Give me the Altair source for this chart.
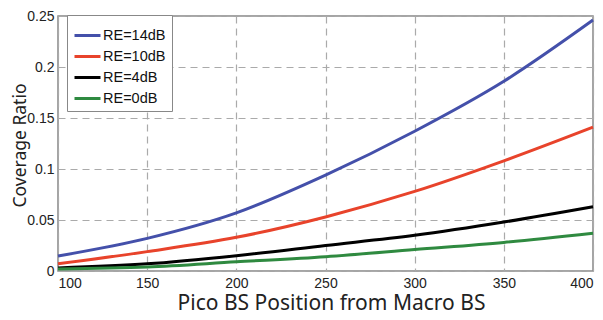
import altair as alt
import pandas as pd

positions = [100, 150, 200, 250, 300, 350, 400]
series_names = ["RE=14dB", "RE=10dB", "RE=4dB", "RE=0dB"]
re14 = [0.0147, 0.032, 0.057, 0.094, 0.137, 0.186, 0.246]
re10 = [0.007, 0.019, 0.033, 0.053, 0.078, 0.108, 0.141]
re4 = [0.003, 0.007, 0.015, 0.025, 0.035, 0.048, 0.063]
re0 = [0.002, 0.004, 0.009, 0.014, 0.021, 0.028, 0.037]
colors = ["#4450aa", "#e8432b", "#000000", "#2f8a40"]

rows = []
for name, vals in zip(series_names, [re14, re10, re4, re0]):
    for p, v in zip(positions, vals):
        rows.append({"pos": p, "val": v, "series": name})
df = pd.DataFrame(rows)

chart = alt.Chart(df).mark_line(strokeWidth=3, interpolate="monotone").encode(
    x=alt.X("pos:Q", scale=alt.Scale(domain=[100, 400], nice=False),
            axis=alt.Axis(values=positions, title="Pico BS Position from Macro BS",
                          format="d", titleX=273, titleY=38,
                          titleBaseline="alphabetic", titleFontSize=21)),
    y=alt.Y("val:Q", scale=alt.Scale(domain=[0, 0.25], nice=False),
            axis=alt.Axis(values=[0, 0.05, 0.1, 0.15, 0.2, 0.25], title="Coverage Ratio",
                          format="~g", titleX=-29, titleY=129, titleAngle=-90,
                          titleAlign="center", titleBaseline="bottom",
                          titleFontSize=17.5)),
    color=alt.Color("series:N", scale=alt.Scale(domain=series_names, range=colors),
                    sort=series_names,
                    legend=alt.Legend(title=None, orient="none", legendX=9, legendY=-1,
                                      symbolType="stroke", symbolSize=676,
                                      symbolStrokeWidth=3, labelFont="Liberation Sans",
                                      labelFontSize=14.5, labelColor="#111",
                                      rowPadding=0, padding=6, strokeColor="#888",
                                      fillColor="white", labelOffset=1)),
).properties(
    width=535, height=255,
    autosize=alt.AutoSizeParams(type="none"),
    padding={"left": 50, "top": 8, "right": 2, "bottom": 41},
).configure_view(
    stroke="#888", strokeWidth=1.5
).configure_axis(
    grid=True, gridDash=[7, 5], gridColor="#aaa", gridWidth=1.2,
    ticks=False, domain=False,
    labelFont="Liberation Sans", labelFontSize=14, labelColor="#222",
    titleFont="Noto Sans", titleFontWeight="normal", titleColor="#222",
).configure_axisX(
    labelPadding=5
).configure_axisY(
    labelPadding=4
)

chart.save("out.html", embed_options={"renderer": "svg", "actions": False})
